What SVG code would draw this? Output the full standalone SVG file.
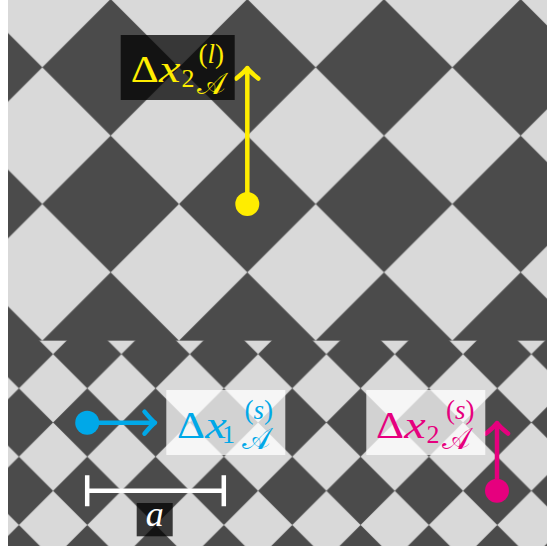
<svg xmlns="http://www.w3.org/2000/svg" width="547" height="546" viewBox="0 0 547 546">
<style>
.lt{fill:#d9d9d9}
.dk{fill:#4b4b4b}
.boxd{fill:#000;fill-opacity:0.75}
.boxl{fill:#fff;fill-opacity:0.75}
.m{font-family:"Liberation Serif","DejaVu Serif",serif}
.i{font-style:italic}
.D{font-size:38px}
.X{font-size:38px;font-style:italic}
.sub{font-size:26px}
.cal{font-size:30px}
.sup{font-size:27px}
.y{fill:#ffed00}
.c{fill:#00a8e8}
.g{fill:#e6007e}
.w{fill:#fff}
.shaft{fill:none;stroke-width:4.5}
</style>
<defs>
<pattern id="big" patternUnits="userSpaceOnUse" x="42.33" y="-1" width="136.67" height="136.67">
<rect class="lt" width="136.67" height="136.67"/>
<polygon class="dk" points="68.33,0 136.67,68.33 68.33,136.67 0,68.33"/>
</pattern>
<pattern id="small" patternUnits="userSpaceOnUse" x="53.1" y="320" width="68.33" height="68.33">
<rect class="lt" width="68.33" height="68.33"/>
<polygon class="dk" points="34.17,0 68.33,34.17 34.17,68.33 0,34.17"/>
</pattern>
<marker id="hy" markerUnits="userSpaceOnUse" markerWidth="30" markerHeight="30" viewBox="-15 -15 30 30" refX="0" refY="0" orient="auto" overflow="visible">
<path d="M-10.5,-11 C-6,-5.5 -2.5,-1.5 0,0 C-2.5,1.5 -6,5.5 -10.5,11" fill="none" stroke="#ffed00" stroke-width="4.5" stroke-linecap="round" stroke-linejoin="round"/>
</marker>
<marker id="hc" markerUnits="userSpaceOnUse" markerWidth="30" markerHeight="30" viewBox="-15 -15 30 30" refX="0" refY="0" orient="auto" overflow="visible">
<path d="M-10.5,-11 C-6,-5.5 -2.5,-1.5 0,0 C-2.5,1.5 -6,5.5 -10.5,11" fill="none" stroke="#00a8e8" stroke-width="4.5" stroke-linecap="round" stroke-linejoin="round"/>
</marker>
<marker id="hg" markerUnits="userSpaceOnUse" markerWidth="30" markerHeight="30" viewBox="-15 -15 30 30" refX="0" refY="0" orient="auto" overflow="visible">
<path d="M-10.5,-11 C-6,-5.5 -2.5,-1.5 0,0 C-2.5,1.5 -6,5.5 -10.5,11" fill="none" stroke="#e6007e" stroke-width="4.5" stroke-linecap="round" stroke-linejoin="round"/>
</marker>
</defs>

<g id="background">
<rect x="0" y="0" width="547" height="546" fill="#fff"/>
<rect x="8" y="0" width="539" height="341.2" fill="url(#big)"/>
<rect x="8" y="340.67" width="539" height="205.33" fill="url(#small)"/>
</g>

<g id="connectors">
<line class="shaft" x1="247.3" y1="204" x2="247.3" y2="68" stroke="#ffed00" marker-end="url(#hy)"/>
<line class="shaft" x1="87.2" y1="422.7" x2="155" y2="422.7" stroke="#00a8e8" marker-end="url(#hc)"/>
<line class="shaft" x1="497" y1="490.8" x2="497" y2="423" stroke="#e6007e" marker-end="url(#hg)"/>
</g>

<g id="dot-large">
<circle cx="247.3" cy="204" r="12" class="y"/>
</g>
<g id="dot-s1">
<circle cx="87.2" cy="422.7" r="12" class="c"/>
</g>
<g id="dot-s2">
<circle cx="497" cy="490.8" r="12" class="g"/>
</g>

<g id="label-large" class="m y">
<rect class="boxd" x="120.7" y="35" width="114" height="65"/>
<text class="D" x="130.7" y="82" textLength="28" lengthAdjust="spacingAndGlyphs">Δ</text>
<text class="X" x="159" y="82" textLength="21.5" lengthAdjust="spacingAndGlyphs">x</text>
<text><tspan class="sub" x="181.5" y="86.7">2</tspan><tspan class="cal" x="196.5" y="93.5">𝒜</tspan><tspan class="sup" x="198.5" y="63">(</tspan><tspan class="sup i">l</tspan><tspan class="sup">)</tspan></text>
</g>

<g id="label-s1" class="m c">
<rect class="boxl" x="166.3" y="390" width="119" height="65"/>
<text class="D" x="177" y="438.3" textLength="28" lengthAdjust="spacingAndGlyphs">Δ</text>
<text class="X" x="205.3" y="438.3" textLength="21.5" lengthAdjust="spacingAndGlyphs">x</text>
<text><tspan class="sub" x="222" y="442.5">1</tspan><tspan class="cal" x="242" y="448.7">𝒜</tspan><tspan class="sup" x="244.5" y="419">(</tspan><tspan class="sup i">s</tspan><tspan class="sup">)</tspan></text>
</g>

<g id="label-s2" class="m g">
<rect class="boxl" x="366.3" y="390" width="119" height="65"/>
<text class="D" x="376" y="438.3" textLength="28" lengthAdjust="spacingAndGlyphs">Δ</text>
<text class="X" x="404.3" y="438.3" textLength="21.5" lengthAdjust="spacingAndGlyphs">x</text>
<text><tspan class="sub" x="426.5" y="442.5">2</tspan><tspan class="cal" x="442" y="448.7">𝒜</tspan><tspan class="sup" x="446" y="419">(</tspan><tspan class="sup i">s</tspan><tspan class="sup">)</tspan></text>
</g>

<g id="scale-bar">
<path d="M87.2,490.8 H223.8 M87.2,475.3 V506.3 M223.8,475.3 V506.3" fill="none" stroke="#fff" stroke-width="4.5"/>
<rect class="boxd" x="136.7" y="503" width="36" height="33.3"/>
<text class="m i w" x="154.7" y="526.3" font-size="36" text-anchor="middle">a</text>
</g>
</svg>
